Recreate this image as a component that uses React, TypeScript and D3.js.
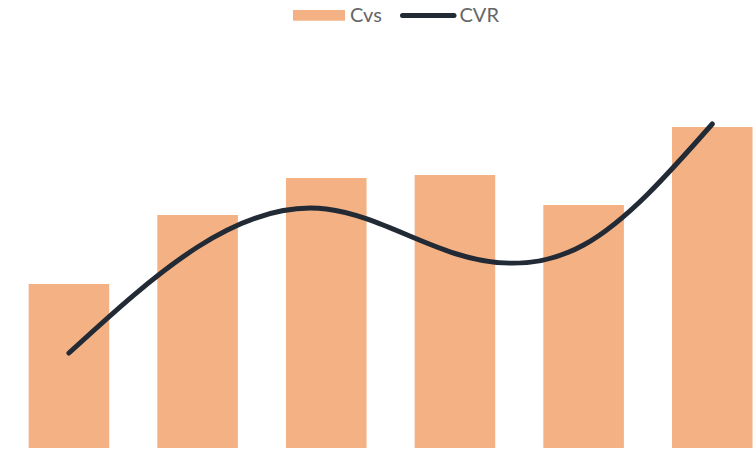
import React from "react";
import * as d3 from "d3";

const categories = ["Jan", "Feb", "Mar", "Apr", "May", "Jun"];
const cvsValues = [164, 233, 270, 273, 243, 321];
const cvrValues = [0.95, 2.01, 2.39, 1.945, 2.03, 3.24];
const legendLabels = ["Cvs", "CVR"];

const W = 755;
const H = 449;
const BAR_COLOR = "#F4B183";
const LINE_COLOR = "#222A35";

export default function App() {
  const x = d3
    .scaleBand<string>()
    .domain(categories)
    .range([4.6, 776.6])
    .paddingInner(0.374)
    .paddingOuter(0.187);
  const yBar = d3.scaleLinear().domain([0, 400]).range([448, 48]);
  const yLine = d3.scaleLinear().domain([0, 4]).range([448, 48]);

  const line = d3
    .line<number>()
    .x((_, i) => (x(categories[i]) as number) + x.bandwidth() / 2)
    .y((d) => yLine(d))
    .curve(d3.curveNatural);

  return (
    <svg
      width={W}
      height={H}
      style={{ position: "absolute", left: 0, top: 0, overflow: "hidden" }}
      fontFamily="Lato, 'Open Sans', sans-serif"
    >
      <rect width={W} height={H} fill="#fff" />
      {categories.map((c, i) => (
        <rect
          key={c}
          x={x(c)}
          y={yBar(cvsValues[i])}
          width={x.bandwidth()}
          height={yBar(0) - yBar(cvsValues[i])}
          fill={BAR_COLOR}
        />
      ))}
      <path
        d={line(cvrValues) ?? ""}
        fill="none"
        stroke={LINE_COLOR}
        strokeWidth={5}
        strokeLinecap="round"
        strokeLinejoin="round"
      />
      <g>
        <rect x={293} y={10} width={52} height={10.7} fill={BAR_COLOR} />
        <text x={350} y={22} fontSize={20} fill="#666">
          {legendLabels[0]}
        </text>
        <line
          x1={402.5}
          y1={15.5}
          x2={454}
          y2={15.5}
          stroke={LINE_COLOR}
          strokeWidth={5}
          strokeLinecap="round"
        />
        <text x={459.5} y={22} fontSize={20} fill="#666">
          {legendLabels[1]}
        </text>
      </g>
    </svg>
  );
}
